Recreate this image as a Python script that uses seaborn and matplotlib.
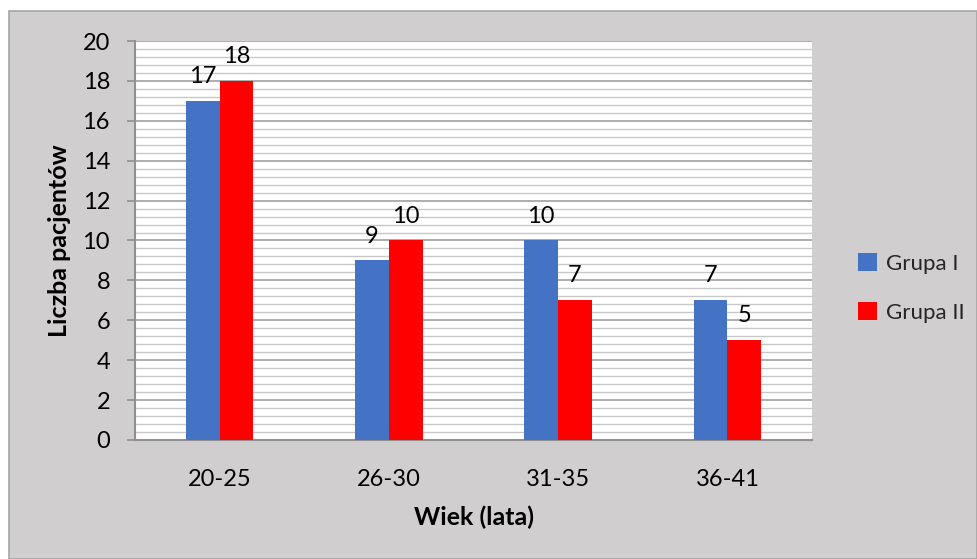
import matplotlib
matplotlib.use("Agg")
import matplotlib.pyplot as plt
import seaborn as sns
import pandas as pd
import numpy as np
from matplotlib.patches import Rectangle
from matplotlib.ticker import MultipleLocator

categories = ["20-25", "26-30", "31-35", "36-41"]
grupa1 = [17, 9, 10, 7]
grupa2 = [18, 10, 7, 5]
series_names = ["Grupa I", "Grupa II"]
colors = ["#4472C4", "#FF0000"]

df = pd.DataFrame({
    "Wiek": categories * 2,
    "Liczba": grupa1 + grupa2,
    "Grupa": [series_names[0]] * 4 + [series_names[1]] * 4,
})

sns.set_theme(style="white")
plt.rcParams["font.family"] = ["Lato", "DejaVu Sans"]

bg = "#D0CECE"
fig = plt.figure(figsize=(9.77, 5.59), dpi=100)
fig.patch.set_facecolor("white")
fig.patches.append(Rectangle((9 / 977, 0), 1 - 9 / 977, 1 - 11 / 559,
                             transform=fig.transFigure, facecolor=bg,
                             edgecolor="#A6A6A6", linewidth=1.2, zorder=-10))

ax = fig.add_axes([135 / 977, 1 - 440 / 559, (812 - 135) / 977, (440 - 41) / 559])
ax.set_facecolor("white")

sns.barplot(data=df, x="Wiek", y="Liczba", hue="Grupa", palette=colors,
            width=0.4, gap=0, ax=ax, saturation=1, edgecolor="none",
            zorder=3)

ax.set_ylim(0, 20)
ax.yaxis.set_major_locator(MultipleLocator(2))
ax.yaxis.set_minor_locator(MultipleLocator(0.4))
ax.grid(axis="y", which="major", color="#A0A0A0", linewidth=1.2, zorder=0)
ax.grid(axis="y", which="minor", color="#C8C8C8", linewidth=1.0, zorder=0)
ax.set_axisbelow(True)

for s in ["top", "right"]:
    ax.spines[s].set_visible(False)
for s in ["left", "bottom"]:
    ax.spines[s].set_color("#909090")
    ax.spines[s].set_linewidth(1.5)

fs = 17
ax.tick_params(axis="y", which="major", length=6, width=1.2, color="#909090",
               direction="out", pad=12, labelsize=fs, left=True, labelcolor="black")
ax.tick_params(axis="y", which="minor", length=0)
ax.tick_params(axis="x", length=0, pad=21, labelsize=fs, labelcolor="black")

for cont in ax.containers:
    ax.bar_label(cont, padding=10, fontsize=fs, color="black")

ax.set_xlabel("Wiek (lata)", fontsize=18, fontweight="bold", labelpad=11, color="black")
ax.set_ylabel("Liczba pacjentów", fontsize=18, fontweight="bold", labelpad=8, color="black")

leg = ax.legend(loc="center left", bbox_to_anchor=(838 / 977, 1 - 288 / 559),
                bbox_transform=fig.transFigure, frameon=False, fontsize=16,
                handlelength=0.85, handleheight=0.85, handletextpad=0.4,
                labelspacing=1.3)

fig.savefig("out.png", dpi=100, facecolor=fig.get_facecolor())
